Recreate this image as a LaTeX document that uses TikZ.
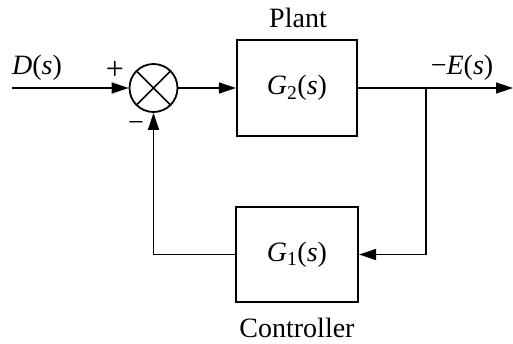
\documentclass[tikz,border=0pt]{standalone}
\usepackage{fontspec}
\setmainfont{Liberation Serif}
\usetikzlibrary{arrows.meta}
\tikzset{
  sig/.style={line width=1.6pt, -{Triangle[length=17pt,width=11pt]}},
  blk/.style={draw, line width=2.2pt, minimum width=120pt, minimum height=96pt, inner sep=0pt},
  sumnode/.style={draw, circle, line width=1.8pt, minimum size=48pt, inner sep=0pt},
  lbl/.style={inner sep=0pt, font=\fontsize{28}{33}\selectfont}
}
\begin{document}
\begin{tikzpicture}[x=1pt,y=-1pt]
\useasboundingbox (0,0) rectangle (513,343);
\node[sumnode] (sum) at (153.5,88) {};
\draw[line width=1.6pt] (sum.north west) -- (sum.south east) (sum.north east) -- (sum.south west);
\node[blk, lbl] (plant) at (297,88) {\textit{G}\textsubscript{2}(\textit{s})};
\node[blk, lbl, minimum width=122pt, minimum height=95pt] (ctrl) at (297,254.5) {\textit{G}\textsubscript{1}(\textit{s})};
\coordinate (in) at (12,88);
\coordinate (out) at (513,88);
\coordinate (br) at (426,88);
\draw[sig] (in) -- (sum.west);
\draw[sig] (sum.east) -- (plant.west);
\draw[sig] (plant.east) -- (out);
\draw[sig] (br) |- (ctrl.east);
\draw[sig] (ctrl.west) -| (sum.south);
\node[lbl] (dlab) at (37,68) {\textit{D}(\textit{s})};
\node[lbl, font=\fontsize{32}{36}\selectfont] (plus) at (115,70) {+};
\node[lbl] (minus) at (136,126) {−};
\node[lbl] (elab) at (462,68) {−\textit{E}(\textit{s})};
\node[lbl] (plab) at (298,18) {Plant};
\node[lbl] (clab) at (297,328) {Controller};
\end{tikzpicture}
\end{document}
